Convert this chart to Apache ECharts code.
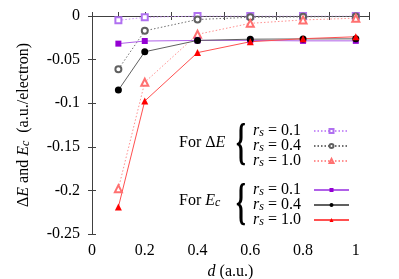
<!DOCTYPE html>
<html><head><meta charset="utf-8">
<script src="https://cdn.jsdelivr.net/npm/echarts@6/dist/echarts.min.js"></script>
<style>html,body{margin:0;padding:0;background:#fff}#c{width:399px;height:279px}</style>
</head><body><div id="c"></div>
<script>
const dValues = [0.1, 0.2, 0.4, 0.6, 0.8, 1.0];
const dE_rs01 = [-0.005, -0.0015, 0, 0, 0, 0];
const dE_rs04 = [-0.061, -0.017, -0.004, -0.0015, -0.001, -0.0005];
const dE_rs10 = [-0.198, -0.076, -0.021, -0.0084, -0.0045, -0.0025];
const Ec_rs01 = [-0.0317, -0.0287, -0.028, -0.028, -0.0285, -0.0285];
const Ec_rs04 = [-0.085, -0.041, -0.028, -0.0266, -0.0263, -0.0262];
const Ec_rs10 = [-0.219, -0.0975, -0.042, -0.0295, -0.026, -0.0238];
const rsLabels = ['0.1', '0.4', '1.0'];
const xTickLabels = ['0', '0.2', '0.4', '0.6', '0.8', '1'];
const yTickLabels = ['-0.25', '-0.2', '-0.15', '-0.1', '-0.05', '0'];

const FONT = '"Liberation Serif", "Times New Roman", serif';
const pair = (ys) => dValues.map((x, i) => [x, ys[i]]);
const richDefs = {
  i: { fontStyle: 'italic', fontFamily: FONT, fontSize: 16, lineHeight: 15, color: '#000' },
  t: { fontFamily: FONT, fontSize: 16, lineHeight: 15, color: '#000' },
  sub: { fontStyle: 'italic', fontFamily: FONT, fontSize: 12, lineHeight: 8, verticalAlign: 'bottom', color: '#000' }
};

function mk(name, ys, symbol, itemColor, lineColor, dotted, size) {
  return {
    name, type: 'line', data: pair(ys), symbol, symbolSize: size,
    lineStyle: { color: lineColor, width: 1, type: dotted ? [1.5, 2] : 'solid' },
    itemStyle: { color: itemColor, borderWidth: 1 },
    emphasis: { disabled: true }, animation: false
  };
}
const names = ['dE01','dE04','dE10','Ec01','Ec04','Ec10'];
const series = [
  mk('dE01', dE_rs01, 'emptyRect', '#b070f0', '#c890f8', true, 6),
  mk('dE04', dE_rs04, 'emptyCircle', '#606060', '#707070', true, 6),
  mk('dE10', dE_rs10, 'emptyTriangle', '#ff7070', '#ff9090', true, 7),
  mk('Ec01', Ec_rs01, 'rect', '#9400d3', '#b060e8', false, 6),
  mk('Ec04', Ec_rs04, 'circle', '#000000', '#606060', false, 7),
  mk('Ec10', Ec_rs10, 'triangle', '#ff0000', '#ff5050', false, 7)
];
const legFmt = (n) => {
  const k = names.indexOf(n) % 3;
  return '{i|r}{sub|s}{t| = ' + rsLabels[k] + '  }';
};
const axisCommon = {
  axisLine: { show: true, lineStyle: { color: '#404040', width: 1 } },
  axisTick: { show: true, inside: true, length: 4, lineStyle: { color: '#404040' } },
  splitLine: { show: false }
};
const legendCommon = {
  orient: 'vertical', right: 49, align: 'right', padding: 0,
  itemWidth: 35, itemHeight: 5, itemGap: -1, formatter: legFmt, selectedMode: false,
  textStyle: { fontFamily: FONT, fontSize: 16, color: '#000', rich: richDefs }
};
const option = {
  backgroundColor: '#fff',
  animation: false,
  textStyle: { fontFamily: FONT },
  grid: { left: 92, right: 30, top: 16, bottom: 45, containLabel: false, outerBoundsMode: 'none' },
  xAxis: [
    Object.assign({
      type: 'value', min: 0, max: 1.05, interval: 0.1, position: 'bottom',
      name: '{i|d} (a.u.)', nameLocation: 'middle', nameGap: 29,
      nameTextStyle: { fontFamily: FONT, fontSize: 16, color: '#000', rich: richDefs },
      axisLabel: {
        fontFamily: FONT, fontSize: 16, color: '#000', margin: 9, showMaxLabel: true,
        formatter: (v) => { const k = Math.round(v * 10); return (k % 2 === 0 && k <= 10) ? xTickLabels[k / 2] : ''; }
      }
    }, axisCommon),
    Object.assign({ type: 'value', min: 0, max: 1.05, interval: 0.1, position: 'top', axisLabel: { show: false } }, axisCommon)
  ],
  yAxis: [
    Object.assign({
      type: 'value', min: -0.25, max: 0, interval: 0.05, position: 'left',
      name: 'Δ{i|E} and {i|E}{sub|c}  (a.u./electron)', nameLocation: 'middle', nameGap: 60, nameRotate: 90,
      nameTextStyle: { fontFamily: FONT, fontSize: 16, color: '#000', rich: richDefs },
      axisLabel: {
        fontFamily: FONT, fontSize: 16, color: '#000', margin: 12,
        formatter: (v) => yTickLabels[Math.round((v + 0.25) / 0.05)]
      }
    }, axisCommon),
    Object.assign({ type: 'value', min: -0.25, max: 0, interval: 0.05, position: 'right', axisLabel: { show: false } }, axisCommon)
  ],
  legend: [
    Object.assign({ data: ['dE01','dE04','dE10'], top: 123 }, legendCommon),
    Object.assign({ data: ['Ec01','Ec04','Ec10'], top: 182 }, legendCommon)
  ],
  graphic: [
    { type: 'text', left: 179, top: 135, style: { text: 'For Δ{i|E}', font: '16px "Liberation Serif"', fill: '#000', rich: richDefs } },
    { type: 'text', left: 179, top: 193, style: { text: 'For {i|E}{sub|c}', font: '16px "Liberation Serif"', fill: '#000', rich: richDefs } },
    { type: 'text', x: 236, y: 145, scaleX: 0.5, style: { text: '{', font: 'bold 50px "Liberation Serif"', fill: '#000', textVerticalAlign: 'middle' } },
    { type: 'text', x: 236, y: 205, scaleX: 0.5, style: { text: '{', font: 'bold 50px "Liberation Serif"', fill: '#000', textVerticalAlign: 'middle' } }
  ],
  series
};
const chart = echarts.init(document.getElementById('c'), null, { renderer: 'canvas' });
chart.setOption(option);
</script></body></html>
